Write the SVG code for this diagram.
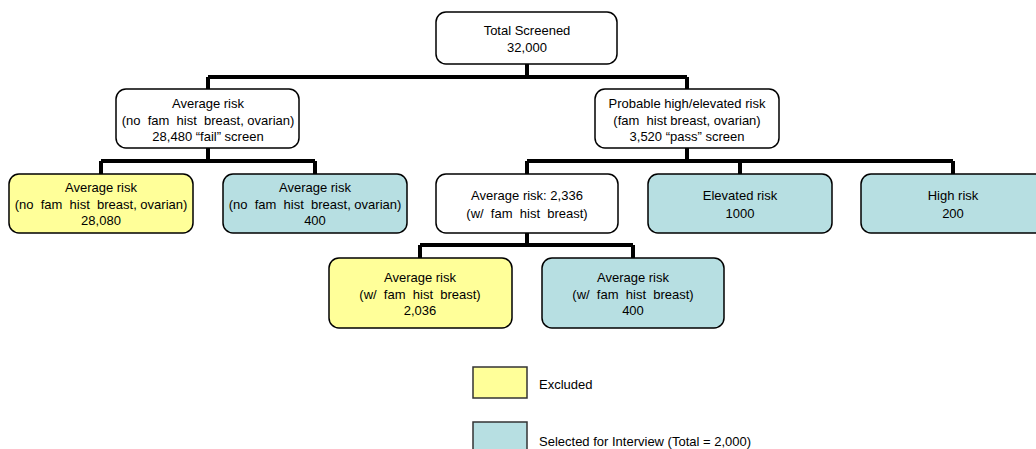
<svg xmlns="http://www.w3.org/2000/svg" width="1036" height="449" viewBox="0 0 1036 449">
<style>
.box{stroke:#000;stroke-width:1.5;}
.w{fill:#fff;}
.y{fill:#ffff99;}
.b{fill:#b7dfe2;}
.conn{fill:none;stroke:#000;stroke-width:4;stroke-linejoin:miter;}
text{font-family:"Liberation Sans",Arial,sans-serif;font-size:13px;fill:#000;text-anchor:middle;white-space:pre;}
.lg{stroke:#333;stroke-width:1.5;}
.lt{text-anchor:start;}
</style>
<rect width="1036" height="449" fill="#fff"/>
<g id="connectors">
<path class="conn" d="M527 64V77M208 77H687M208 77V89M687 77V89"/>
<path class="conn" d="M208 148V161M101 161H315M101 161V174M315 161V174"/>
<path class="conn" d="M687 148V161M527 161H953M527 161V174M740 161V174M953 161V174"/>
<path class="conn" d="M527 233V245M420 245H633M420 245V258M633 245V258"/>
</g>
<g id="n-total">
<rect class="box w" x="436" y="12" width="181" height="52" rx="10"/>
<text x="527" y="35">Total Screened</text>
<text x="527" y="52">32,000</text>
</g>
<g id="n-avg">
<rect class="box w" x="116" y="89" width="183" height="59" rx="10"/>
<text x="208" y="108">Average risk</text>
<text x="208" y="125">(no  fam  hist  breast, ovarian)</text>
<text x="208" y="141">28,480 “fail” screen</text>
</g>
<g id="n-prob">
<rect class="box w" x="595" y="89" width="184" height="59" rx="10"/>
<text x="687" y="108">Probable high/elevated risk</text>
<text x="687" y="125">(fam  hist breast, ovarian)</text>
<text x="687" y="141">3,520 “pass” screen</text>
</g>
<g id="n-avg-excl">
<rect class="box y" x="9" y="174" width="184" height="59" rx="10"/>
<text x="101" y="192">Average risk</text>
<text x="101" y="209">(no  fam  hist  breast, ovarian)</text>
<text x="101" y="225">28,080</text>
</g>
<g id="n-avg-sel">
<rect class="box b" x="223" y="174" width="184" height="59" rx="10"/>
<text x="315" y="192">Average risk</text>
<text x="315" y="209">(no  fam  hist  breast, ovarian)</text>
<text x="315" y="225">400</text>
</g>
<g id="n-avg2336">
<rect class="box w" x="436" y="174" width="182" height="59" rx="10"/>
<text x="527" y="200">Average risk: 2,336</text>
<text x="527" y="218">(w/  fam  hist  breast)</text>
</g>
<g id="n-elev">
<rect class="box b" x="648" y="174" width="184" height="59" rx="10"/>
<text x="740" y="200">Elevated risk</text>
<text x="740" y="218">1000</text>
</g>
<g id="n-high">
<rect class="box b" x="861" y="174" width="184" height="59" rx="10"/>
<text x="953" y="200">High risk</text>
<text x="953" y="218">200</text>
</g>
<g id="n-fam-excl">
<rect class="box y" x="329" y="258" width="183" height="70" rx="10"/>
<text x="420" y="282">Average risk</text>
<text x="420" y="299">(w/  fam  hist  breast)</text>
<text x="420" y="315">2,036</text>
</g>
<g id="n-fam-sel">
<rect class="box b" x="542" y="258" width="182" height="70" rx="10"/>
<text x="633" y="282">Average risk</text>
<text x="633" y="299">(w/  fam  hist  breast)</text>
<text x="633" y="315">400</text>
</g>
<g id="legend">
<rect class="lg y" x="473" y="367" width="54" height="31"/>
<text class="lt" x="539" y="389">Excluded</text>
<rect class="lg b" x="473" y="422" width="54" height="31"/>
<text class="lt" x="539" y="446">Selected for Interview (Total = 2,000)</text>
</g>
</svg>
